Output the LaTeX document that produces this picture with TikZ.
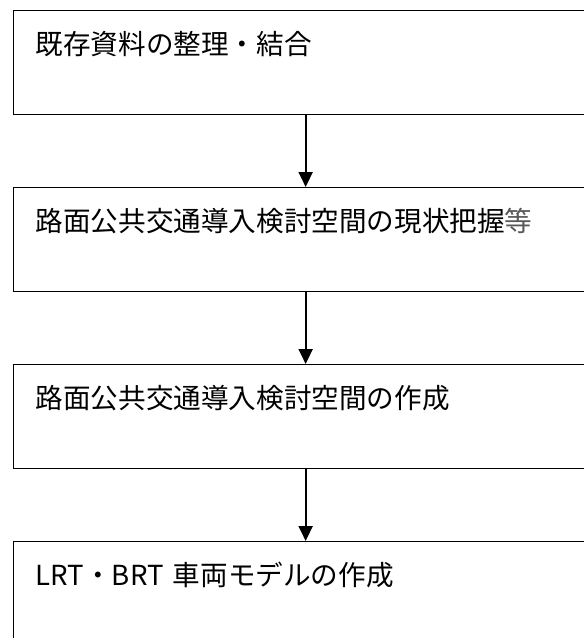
\documentclass[tikz,border=0pt]{standalone}
\usepackage{fontspec}
\setmainfont{Noto Sans CJK JP}
\usetikzlibrary{positioning,arrows.meta}

\begin{document}
\begin{tikzpicture}[x=1pt, y=-1pt, node distance=71.7pt,
  stepbox/.style={draw, line width=1.3pt, anchor=north west, align=left,
    text width=540pt, inner xsep=22pt, inner ysep=0pt,
    text height=44pt, text depth=60pt, font=\fontsize{27.6}{30}\selectfont},
  flow/.style={line width=2pt, -{Triangle[length=15pt, width=14pt]}}]
\useasboundingbox (0,0) rectangle (584,638);
\clip (0,0) rectangle (584,638);
\node[stepbox] (box1) at (13,10) {既存資料の整理・結合};
\node[stepbox, below=of box1] (box2) {路面公共交通導入検討空間の現状把握\textcolor{black!65}{等}};
\node[stepbox, below=of box2] (box3) {路面公共交通導入検討空間の作成};
\node[stepbox, below=of box3] (box4) {LRT・BRT 車両モデルの作成};
\draw[flow] (box1) -- (box2);
\draw[flow] (box2) -- (box3);
\draw[flow] (box3) -- (box4);
\end{tikzpicture}
\end{document}
